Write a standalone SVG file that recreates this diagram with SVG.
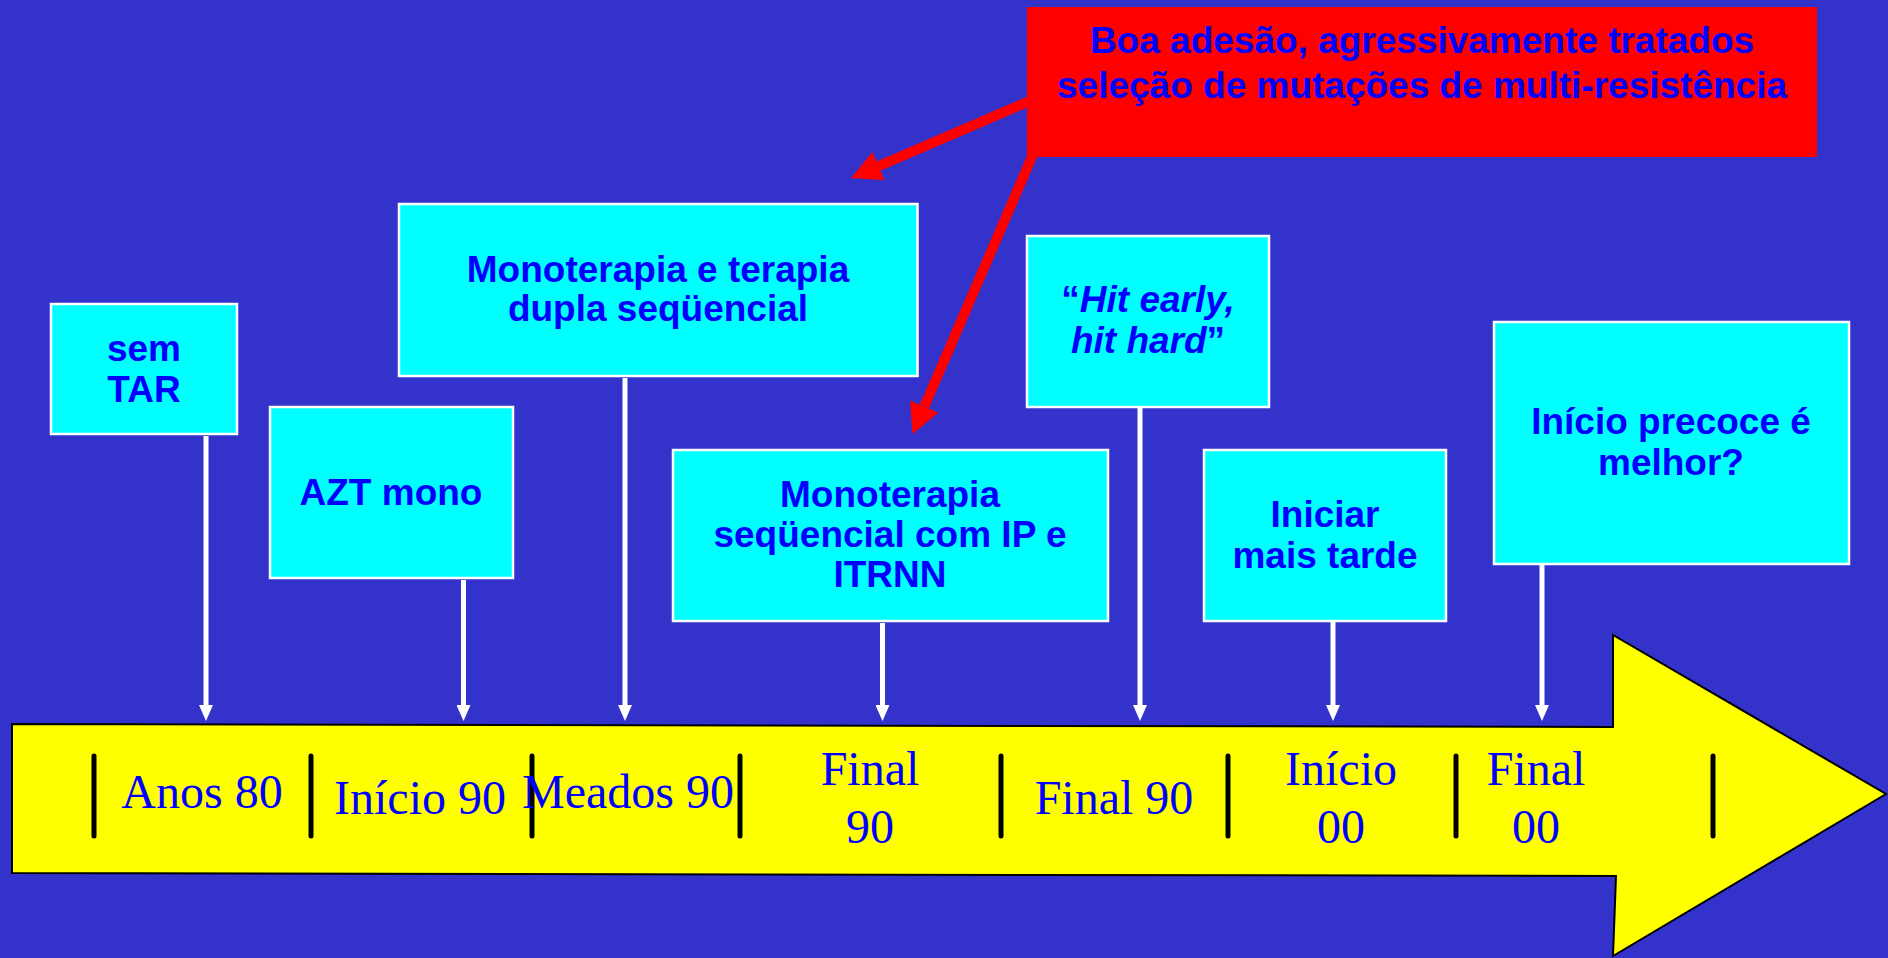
<svg xmlns="http://www.w3.org/2000/svg" width="1888" height="958" viewBox="0 0 1888 958">
<defs>
<style>
.box{fill:#00FFFF;stroke:#FFFFFF;stroke-width:2.5}
.bt{font-family:"Liberation Sans",Arial,sans-serif;font-weight:bold;font-size:37px;fill:#0000FF;text-anchor:middle}
.rt{font-family:"Liberation Sans",Arial,sans-serif;font-weight:bold;font-size:37px;fill:#0000FF;text-anchor:middle}
.tt{font-family:"Liberation Serif","Times New Roman",serif;font-size:48px;fill:#0000FF;text-anchor:middle}
.tick{stroke:#000000;stroke-width:5;stroke-linecap:round}
.wl{stroke:#FFFFFF;stroke-width:5;fill:none}
.rl{stroke:#FF0000;stroke-width:10;fill:none}
</style>
<marker id="wh" markerUnits="userSpaceOnUse" viewBox="0 0 16 14" markerWidth="16" markerHeight="14" refX="0" refY="7" orient="auto">
<path d="M0,0 L16,7 L0,14 z" fill="#FFFFFF"/>
</marker>
<marker id="rh" markerUnits="userSpaceOnUse" viewBox="0 0 30 31" markerWidth="30" markerHeight="31" refX="0" refY="15.5" orient="auto">
<path d="M0,0 L30,15.5 L0,31 z" fill="#FF0000"/>
</marker>
</defs>
<rect x="0" y="0" width="1888" height="958" fill="#3333CC"/>

<g id="timeline">
<polygon points="12,724 1613,727 1613,635 1886,794 1613,956 1616,876 12,873" fill="#FFFF00" stroke="#000000" stroke-width="2"/>
<line class="tick" x1="94" y1="756" x2="94" y2="836"/>
<line class="tick" x1="311" y1="756" x2="311" y2="836"/>
<line class="tick" x1="532" y1="756" x2="532" y2="836"/>
<line class="tick" x1="740" y1="756" x2="740" y2="836"/>
<line class="tick" x1="1001" y1="756" x2="1001" y2="836"/>
<line class="tick" x1="1228" y1="756" x2="1228" y2="836"/>
<line class="tick" x1="1456" y1="756" x2="1456" y2="836"/>
<line class="tick" x1="1713" y1="756" x2="1713" y2="836"/>
<text class="tt" x="202" y="808">Anos 80</text>
<text class="tt" x="420" y="814">Início 90</text>
<text class="tt" x="628" y="808">Meados 90</text>
<text class="tt" x="870" y="785">Final</text>
<text class="tt" x="870" y="843">90</text>
<text class="tt" x="1114" y="814">Final 90</text>
<text class="tt" x="1341" y="785">Início</text>
<text class="tt" x="1341" y="843">00</text>
<text class="tt" x="1536" y="785">Final</text>
<text class="tt" x="1536" y="843">00</text>
</g>

<g id="connectors">
<line class="wl" x1="206" y1="436" x2="206" y2="705" marker-end="url(#wh)"/>
<line class="wl" x1="463.5" y1="580" x2="463.5" y2="705" marker-end="url(#wh)"/>
<line class="wl" x1="625" y1="378" x2="625" y2="705" marker-end="url(#wh)"/>
<line class="wl" x1="882.5" y1="623" x2="882.5" y2="705" marker-end="url(#wh)"/>
<line class="wl" x1="1140" y1="408" x2="1140" y2="705" marker-end="url(#wh)"/>
<line class="wl" x1="1333" y1="622" x2="1333" y2="705" marker-end="url(#wh)"/>
<line class="wl" x1="1542" y1="565" x2="1542" y2="705" marker-end="url(#wh)"/>
<line class="rl" x1="1030" y1="100.8" x2="878.5" y2="166.1" marker-end="url(#rh)"/>
<line class="rl" x1="1034" y1="152" x2="924.3" y2="406.5" marker-end="url(#rh)"/>
</g>

<g id="note">
<rect x="1027" y="7" width="790" height="150" fill="#FF0000"/>
<text class="rt" x="1422" y="53">Boa adesão, agressivamente tratados</text>
<text class="rt" x="1422" y="98">seleção de mutações de multi-resistência</text>
</g>

<g id="sem-tar">
<rect class="box" x="51" y="304" width="186" height="130"/>
<text class="bt" x="144" y="361">sem</text>
<text class="bt" x="144" y="402">TAR</text>
</g>

<g id="azt-mono">
<rect class="box" x="270" y="407" width="243" height="171"/>
<text class="bt" x="391" y="505">AZT mono</text>
</g>

<g id="mono-dupla">
<rect class="box" x="399" y="204" width="518.5" height="172"/>
<text class="bt" x="658" y="282">Monoterapia e terapia</text>
<text class="bt" x="658" y="321">dupla seqüencial</text>
</g>

<g id="mono-seq">
<rect class="box" x="673" y="450" width="435" height="171"/>
<text class="bt" x="890" y="507">Monoterapia</text>
<text class="bt" x="890" y="547">seqüencial com IP e</text>
<text class="bt" x="890" y="587">ITRNN</text>
</g>

<g id="hit-early">
<rect class="box" x="1027" y="236" width="242" height="171"/>
<text class="bt" x="1148" y="312">“<tspan font-style="italic">Hit early,</tspan></text>
<text class="bt" x="1148" y="353"><tspan font-style="italic">hit hard</tspan>”</text>
</g>

<g id="iniciar">
<rect class="box" x="1204" y="450" width="242" height="171"/>
<text class="bt" x="1325" y="527">Iniciar</text>
<text class="bt" x="1325" y="568">mais tarde</text>
</g>

<g id="inicio-precoce">
<rect class="box" x="1494" y="322" width="355" height="242"/>
<text class="bt" x="1671" y="434">Início precoce é</text>
<text class="bt" x="1671" y="475">melhor?</text>
</g>
</svg>
